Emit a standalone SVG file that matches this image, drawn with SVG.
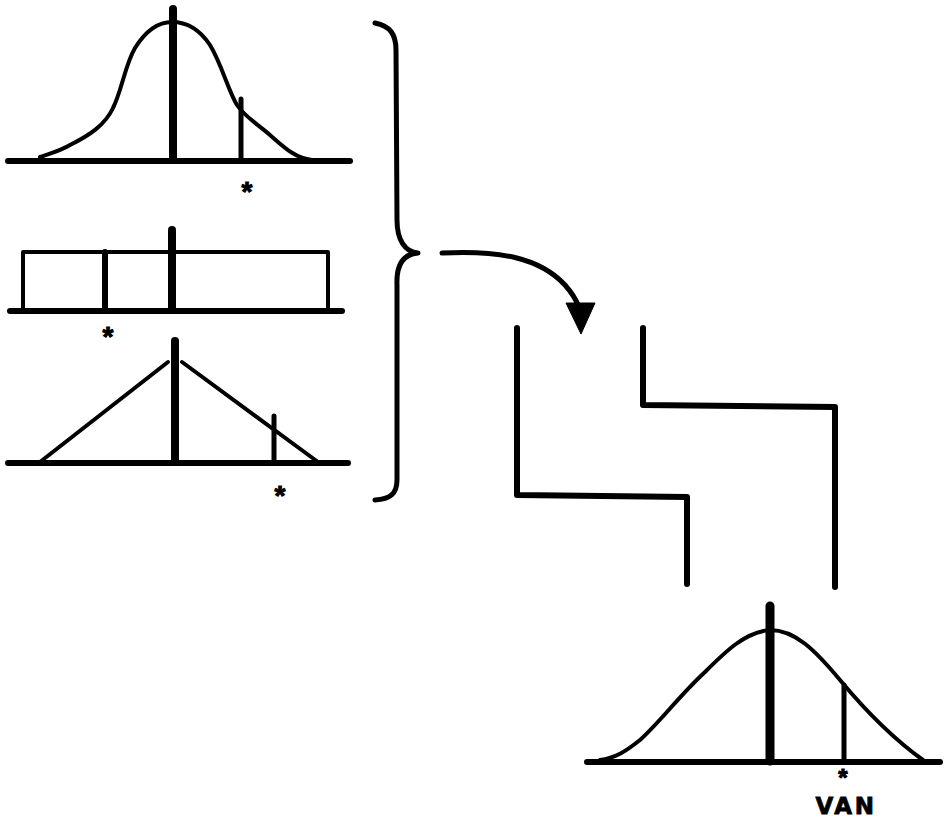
<svg xmlns="http://www.w3.org/2000/svg" width="944" height="820" viewBox="0 0 944 820">
<style>
.ln{fill:none;stroke:#000;stroke-linecap:round;stroke-linejoin:round}
.base{stroke-width:6}
.crv{stroke-width:4}
.mean{stroke-width:8}
.mark{stroke-width:5}
.star{font-family:"Liberation Sans",Arial,sans-serif;font-weight:bold;font-size:28px;text-anchor:middle;fill:#000;stroke:#000;stroke-width:1}
.lbl{font-family:"DejaVu Sans",Verdana,sans-serif;font-weight:bold;font-size:23px;letter-spacing:2.5px;text-anchor:middle;fill:#000;stroke:#000;stroke-width:0.8}
</style>
<rect width="944" height="820" fill="#fff"/>
<g id="normal-input">
<path class="ln crv" d="M40,157 C55,152 62,150 70,145 C90,135 105,125 113,108 C122,90 125,65 135,48 C145,32 158,22 172,22 C188,22 200,30 210,45 C222,65 228,90 237,105 C245,117 255,122 270,135 C285,148 295,158 312,160"/>
<line class="ln base" x1="8" y1="161" x2="350" y2="161"/>
<line class="ln mean" x1="173" y1="9" x2="173" y2="160"/>
<line class="ln mark" x1="241" y1="99" x2="241" y2="160"/>
<text class="star" x="247" y="201">*</text>
</g>
<g id="uniform-input">
<polyline class="ln crv" points="23,310 23,252 328,252 328,310"/>
<line class="ln base" x1="10" y1="311" x2="342" y2="311"/>
<line class="ln mean" x1="172" y1="230" x2="172" y2="310"/>
<line class="ln mark" style="stroke-width:6" x1="105" y1="252" x2="105" y2="310"/>
<text class="star" x="108" y="346">*</text>
</g>
<g id="triangular-input">
<line class="ln crv" x1="40" y1="462" x2="168" y2="362"/>
<line class="ln crv" x1="182" y1="362" x2="318" y2="462"/>
<line class="ln base" x1="8" y1="463" x2="348" y2="463"/>
<line class="ln mean" x1="175" y1="341" x2="175" y2="462"/>
<line class="ln mark" x1="274" y1="416" x2="274" y2="462"/>
<text class="star" x="280" y="505">*</text>
</g>
<g id="brace">
<path class="ln" style="stroke-width:5" d="M375,23 C390,26 396,34 396,50 L397,220 C397,240 405,252 418,253 C405,254 396,262 397,285 L397,480 C397,494 390,499 375,500"/>
</g>
<g id="connectors">
<path class="ln" style="stroke-width:5" d="M442,253 C500,250 540,258 565,285 C572,293 576,300 578,305"/>
<path d="M566,303 L595,303 L581,334 Z" fill="#000" stroke="#000" stroke-width="1" stroke-linejoin="round"/>
</g>
<g id="staircase">
<polyline class="ln" style="stroke-width:6" points="517,328 517,495 687,497 687,584"/>
<polyline class="ln" style="stroke-width:6" points="643,328 643,405 835,407 835,587"/>
</g>
<g id="normal-output">
<path class="ln crv" d="M600,760 C615,758 625,752 640,740 C660,722 680,695 705,672 C725,652 745,632 770,630 C795,630 815,650 840,680 C865,710 895,740 923,760"/>
<line class="ln base" x1="587" y1="762" x2="940" y2="762"/>
<line class="ln mean" style="stroke-width:9" x1="770" y1="606" x2="770" y2="761"/>
<line class="ln mark" x1="844" y1="685" x2="844" y2="761"/>
<text class="star" style="font-size:24px" x="843" y="786">*</text>
<text class="lbl" x="846" y="814">VAN</text>
</g>
</svg>
